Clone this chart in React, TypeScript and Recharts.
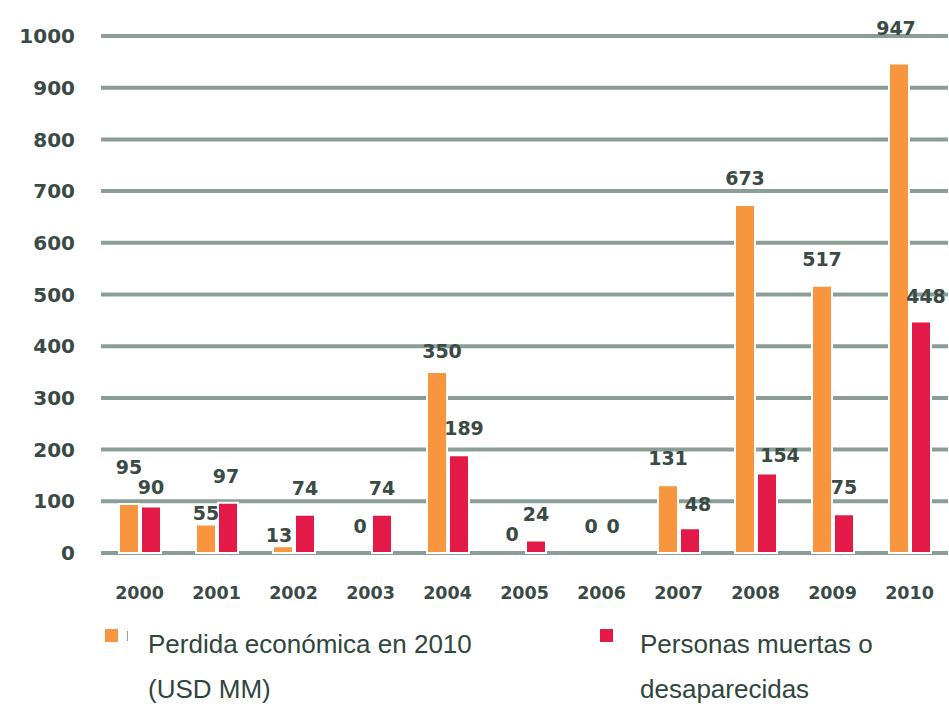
import React from 'react';
import { BarChart, Bar, XAxis, YAxis, CartesianGrid, Legend, LabelList, Rectangle } from 'recharts';

const years = ['2000', '2001', '2002', '2003', '2004', '2005', '2006', '2007', '2008', '2009', '2010'];
const perdida = [95, 55, 13, 0, 350, 0, 0, 131, 673, 517, 947];
const personas = [90, 97, 74, 74, 189, 24, 0, 48, 154, 75, 448];
const yTicks = [0, 100, 200, 300, 400, 500, 600, 700, 800, 900, 1000];
const seriesNames = ['Perdida económica en 2010 (USD MM)', 'Personas muertas o desaparecidas'];

const data = years.map((year, i) => ({ year, perdida: perdida[i], personas: personas[i] }));

const ORANGE = '#F7963F';
const RED = '#E31A47';
const GRID = '#8A9D96';
const TEXT = '#3A4A44';
const LEGEND_TEXT = '#2F463D';

const numFont = { fontFamily: 'DejaVu Sans', fontWeight: 700, fontSize: 19, fill: TEXT };

// [dx, dy] nudges for labels that sit off the usual spot in the original
const labelNudge: Record<string, Record<string, [number, number]>> = {
    perdida: { '2000': [0, -10], '2001': [0, 15], '2002': [-4, 16], '2004': [5, 6], '2005': [-2, 8], '2010': [-3, -8] },
    personas: { '2000': [0, 8], '2001': [-2, 0], '2004': [5, 0], '2007': [8, 3], '2008': [13, 9], '2010': [5, 2] },
};

const legendLayout = [
    { left: 105, textLeft: 148, textWidth: 360 },
    { left: 600, textLeft: 640, textWidth: 260 },
];

function ChartLegend({ payload }: any) {
    return (
        <div style={{ position: 'relative', height: 0 }}>
            {(payload || []).map((entry: any, i: number) => (
                <React.Fragment key={entry.value}>
                    <div
                        style={{
                            position: 'absolute',
                            left: legendLayout[i].left,
                            top: 7,
                            width: 13,
                            height: 13,
                            background: entry.color,
                        }}
                    />
                    {i === 0 && (
                        <div style={{ position: 'absolute', left: 127, top: 9, width: 1, height: 10, background: '#9a9a9a' }} />
                    )}
                    <div
                        style={{
                            position: 'absolute',
                            left: legendLayout[i].textLeft,
                            top: 0,
                            width: legendLayout[i].textWidth,
                            fontFamily: '"Liberation Sans", Arial, sans-serif',
                            fontSize: 26,
                            lineHeight: '45px',
                            color: LEGEND_TEXT,
                            textAlign: 'left',
                        }}
                    >
                        {entry.value}
                    </div>
                </React.Fragment>
            ))}
        </div>
    );
}

function makeLabel(key: string) {
    return (props: any) => {
        const { x, y, width, value, index } = props;
        const [dx, dy] = labelNudge[key][years[index]] || [0, 0];
        return (
            <text
                x={Number(x) + Number(width) / 2 + dx}
                y={Number(y) - 20 + dy}
                textAnchor="middle"
                style={numFont}
                fill={TEXT}
            >
                {value}
            </text>
        );
    };
}

// zero bars get a hair of height so their "0" label is still placed; skip drawing them
const barShape = (props: any) => (props.height < 1 ? <g /> : <Rectangle {...props} />);
const zeroMin = (value: any) => (Number(value) === 0 ? 0.01 : 0);

export default function App() {
    return (
        <div style={{ position: 'absolute', left: 0, top: 0, width: 949, height: 704, background: '#fff' }}>
            <BarChart
                width={949}
                height={704}
                data={data}
                margin={{ top: 36, right: 1, left: 0, bottom: 121 }}
                barSize={20}
                barGap={2}
            >
                <CartesianGrid vertical={false} stroke={GRID} strokeWidth={4} />
                <XAxis
                    dataKey="year"
                    axisLine={false}
                    tickLine={false}
                    tickSize={0}
                    tickMargin={34}
                    tick={{ ...numFont, fontSize: 17.5 }}
                    interval={0}
                />
                <YAxis
                    width={101}
                    domain={[0, 1000]}
                    ticks={yTicks}
                    axisLine={false}
                    tickLine={false}
                    tickSize={0}
                    tickMargin={26}
                    tick={{ ...numFont, fontSize: 20 }}
                    interval={0}
                />
                <Legend
                    verticalAlign="middle"
                    wrapperStyle={{ position: 'absolute', left: 0, top: 622, width: 949, height: 0 }}
                    content={<ChartLegend />}
                />
                <Bar
                    dataKey="perdida"
                    name={seriesNames[0]}
                    fill={ORANGE}
                    stroke="#fff"
                    strokeWidth={2}
                    minPointSize={zeroMin}
                    shape={barShape}
                    isAnimationActive={false}
                >
                    <LabelList dataKey="perdida" content={makeLabel('perdida')} />
                </Bar>
                <Bar
                    dataKey="personas"
                    name={seriesNames[1]}
                    fill={RED}
                    stroke="#fff"
                    strokeWidth={2}
                    minPointSize={zeroMin}
                    shape={barShape}
                    isAnimationActive={false}
                >
                    <LabelList dataKey="personas" content={makeLabel('personas')} />
                </Bar>
            </BarChart>
        </div>
    );
}
